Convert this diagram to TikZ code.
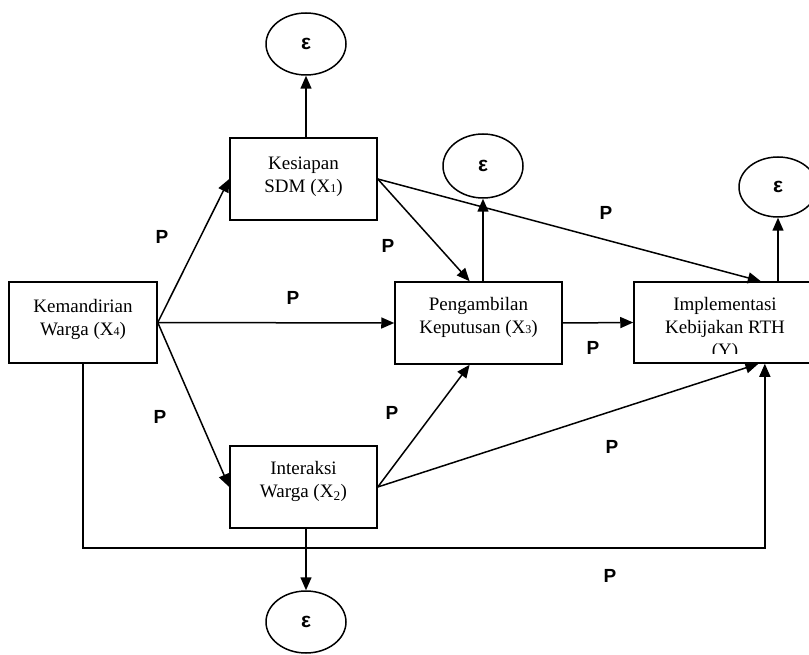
\documentclass[tikz,border=0pt]{standalone}
\usepackage{fontspec}
\setmainfont{Liberation Serif}
\newfontfamily\coeffont{Liberation Sans}
\usetikzlibrary{arrows.meta,positioning,shapes.geometric}
\tikzset{
  varbox/.style={draw, inner sep=0pt},
  boxtext/.style={inner sep=0pt, align=center, font=\fontsize{19}{23}\selectfont},
  errnode/.style={draw, ellipse, inner sep=0pt, minimum width=80pt, minimum height=62pt, font=\coeffont\bfseries\fontsize{21}{21}\selectfont},
  coef/.style={inner sep=0pt, font=\coeffont\bfseries\fontsize{19}{19}\selectfont}
}
\newcommand{\smallsub}[1]{{\fontsize{12}{12}\selectfont #1}}
\begin{document}
\begin{tikzpicture}[x=1pt, y=-1pt, line width=1.5pt, >={Triangle[length=13pt,width=11pt]}]
\useasboundingbox (0,0) rectangle (809,655);
% variables
\node[varbox, minimum width=148pt, minimum height=81pt] (x4) at (83,322.5) {};
\node[varbox, minimum width=147pt, minimum height=82pt] (x1) at (303.5,179) {};
\node[varbox, minimum width=147pt, minimum height=82pt] (x2) at (303.5,487) {};
\node[varbox, minimum width=167pt, minimum height=82pt] (x3) at (478.5,323) {};
\node[varbox, minimum width=182pt, minimum height=81pt] (y) at (725,322.5) {};
\node[boxtext, below=17pt of x4.north] (x4txt) {Kemandirian\\Warga (X\smallsub{4})};
\node[boxtext, below=19pt of x1.north] (x1txt) {Kesiapan\\SDM (X\smallsub{1})};
\node[boxtext, below=15pt of x2.north] (x2txt) {Interaksi\\Warga (X\textsubscript{2})};
\node[boxtext, below=15pt of x3.north] (x3txt) {Pengambilan\\Keputusan (X\smallsub{3})};
\begin{scope}
\clip (634,282) rectangle (816,353);
\node[boxtext, below=15pt of y.north] (ytxt) {Implementasi\\Kebijakan RTH\\(Y)};
\end{scope}
% error terms
\node[errnode] (e1) at (306,44) {ε};
\node[errnode, minimum height=64pt] (e3) at (483,166) {ε};
\node[errnode, minimum width=78pt, minimum height=60pt] (ey) at (778,187) {ε};
\node[errnode] (e2) at (306,622) {ε};
% paths
\draw[->] (x4.east) -- (x1.west);
\draw[->] (x4.east) -- (x3.west);
\draw[->] (x4.east) -- (x2.west);
\draw[->] (x1.east) -- (x3.102);
\draw[->] (x1.east) -- (y.49);
\draw[->] (x2.east) -- (x3.258);
\draw[->] (x2.east) -- (y.-51);
\draw[->] (x3.east) -- (y.west);
\coordinate (rail) at (83,548);
\draw[->] (x4.south) -- (rail) -| (y.-46);
\draw[->] (e1 |- x1.north) -- (e1.south);
\draw[->] (e3 |- x3.north) -- (e3.south);
\draw[->] (ey |- y.north) -- (ey.south);
\draw[->] (e2 |- x2.south) -- (e2.north);
% coefficients
\node[coef] (p41) at (162,237) {P};
\node[coef] (p43) at (293,298) {P};
\node[coef] (p42) at (160,417) {P};
\node[coef] (p13) at (388,246) {P};
\node[coef] (p1y) at (606,213) {P};
\node[coef] (p3y) at (593,348) {P};
\node[coef] (p23) at (392,413) {P};
\node[coef] (p2y) at (612,447) {P};
\node[coef] (p4y) at (610,576) {P};
\end{tikzpicture}
\end{document}
